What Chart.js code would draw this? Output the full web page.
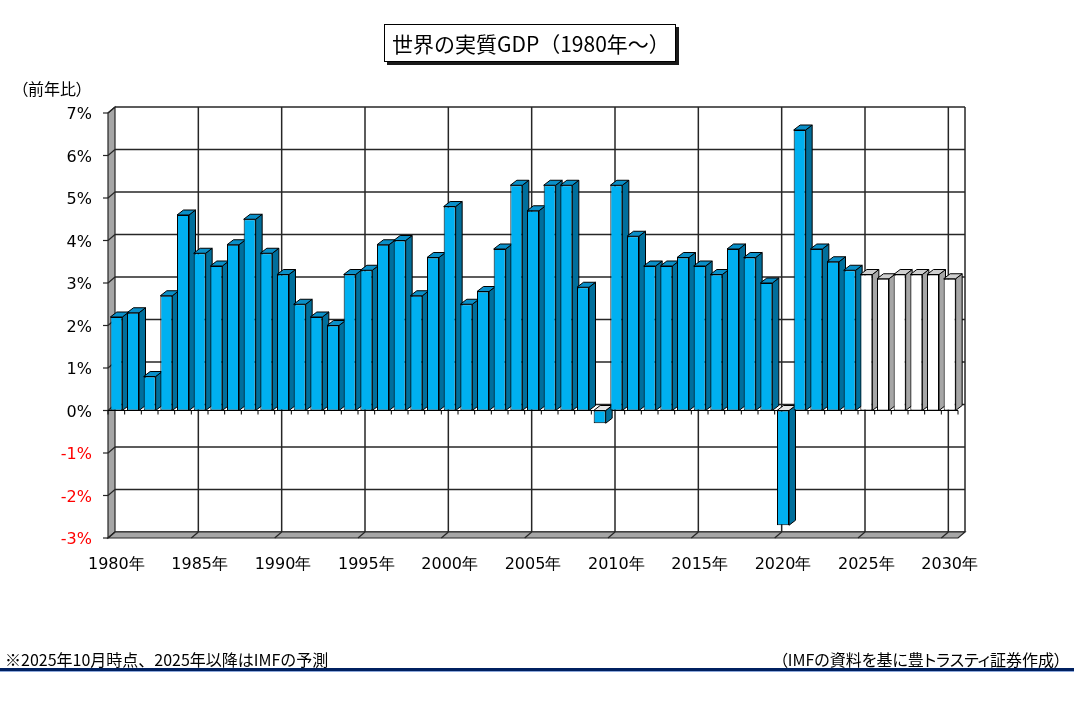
<!DOCTYPE html>
<html>
<head>
<meta charset="utf-8">
<script src="https://cdn.jsdelivr.net/npm/chart.js@4.4.1/dist/chart.umd.min.js"></script>
<style>
  body { margin: 0; background: #fff; }
  #wrap { position: relative; width: 1074px; height: 707px; overflow: hidden;
          font-family: "Noto Sans CJK JP", sans-serif; color: #000; }
  #chart { position: absolute; left: 0; top: 0; }
  .title { position: absolute; left: 384px; top: 24px; width: 292px; height: 38px;
           box-sizing: border-box; border: 1px solid #000; background: #fff;
           box-shadow: 3px 3px 0 #1a1a1a; font-size: 21px; line-height: 37px;
           padding-left: 7px; white-space: nowrap; }
  .unit { position: absolute; left: 20px; top: 76px; font-size: 16px; line-height: 24px;
          font-feature-settings: "palt"; white-space: nowrap; }
  .note { position: absolute; left: 5px; top: 647px; font-size: 16px; line-height: 24px; white-space: nowrap; }
  .src { position: absolute; right: 12px; top: 647px; font-size: 16px; line-height: 24px;
         font-feature-settings: "palt"; white-space: nowrap; }
  .rule { position: absolute; left: 0; top: 668px; width: 1074px; height: 3px; background: #002060;
          border-bottom: 1px solid #8ea9db; }
</style>
</head>
<body>
<div id="wrap">
  <canvas id="chart" width="1074" height="707"></canvas>
  <div class="title">世界の実質GDP（1980年～）</div>
  <div class="unit">（前年比）</div>
  <div class="note">※2025年10月時点、2025年以降はIMFの予測</div>
  <div class="src">（IMFの資料を基に豊トラスティ証券作成）</div>
  <div class="rule"></div>
</div>
<script>
// data
var years = ['1980','1981','1982','1983','1984','1985','1986','1987','1988','1989',
             '1990','1991','1992','1993','1994','1995','1996','1997','1998','1999',
             '2000','2001','2002','2003','2004','2005','2006','2007','2008','2009',
             '2010','2011','2012','2013','2014','2015','2016','2017','2018','2019',
             '2020','2021','2022','2023','2024','2025','2026','2027','2028','2029','2030'];
var growth = [2.2, 2.3, 0.8, 2.7, 4.6, 3.7, 3.4, 3.9, 4.5, 3.7,
              3.2, 2.5, 2.2, 2.0, 3.2, 3.3, 3.9, 4.0, 2.7, 3.6,
              4.8, 2.5, 2.8, 3.8, 5.3, 4.7, 5.3, 5.3, 2.9, -0.3,
              5.3, 4.1, 3.4, 3.4, 3.6, 3.4, 3.2, 3.8, 3.6, 3.0,
              -2.7, 6.6, 3.8, 3.5, 3.3, 3.2, 3.1, 3.2, 3.2, 3.2, 3.1];
var firstForecastYear = 2025;
var xTickLabels = ['1980年','1985年','1990年','1995年','2000年','2005年',
                   '2010年','2015年','2020年','2025年','2030年'];
var yTicks = [-3, -2, -1, 0, 1, 2, 3, 4, 5, 6, 7];

// 3d look
var DX = 7, DY = -6;       // wall depth
var BDX = 6.5, BDY = -5;   // bar depth
var faceColors = {
  actual:   { front: '#00B0F0', top: '#0A8FC8', side: '#006F9C' },
  forecast: { front: '#FFFFFF', top: '#CFCFCF', side: '#A6A6A6' }
};

function isForecast(i) { return parseInt(years[i], 10) >= firstForecastYear; }

function line(ctx, x1, y1, x2, y2) {
  ctx.beginPath(); ctx.moveTo(x1, y1); ctx.lineTo(x2, y2); ctx.stroke();
}
function poly(ctx, pts, fill) {
  ctx.beginPath();
  ctx.moveTo(pts[0][0], pts[0][1]);
  for (var i = 1; i < pts.length; i++) ctx.lineTo(pts[i][0], pts[i][1]);
  ctx.closePath();
  ctx.fillStyle = fill; ctx.fill(); ctx.stroke();
}

var wall3d = {
  id: 'wall3d',
  beforeDatasetsDraw: function(chart) {
    var ctx = chart.ctx, a = chart.chartArea;
    var xs = chart.scales.x, ys = chart.scales.y;
    var step = xs.getPixelForValue(1) - xs.getPixelForValue(0);
    var edge = function(i) { return xs.getPixelForValue(i) - step / 2; };
    ctx.save();
    ctx.strokeStyle = '#262626';
    ctx.lineWidth = 1.5;
    // back wall horizontal grid
    yTicks.forEach(function(v) {
      var y = ys.getPixelForValue(v);
      line(ctx, a.left + DX, y + DY, a.right + DX, y + DY);
    });
    // back wall vertical grid every 5 years
    for (var i = 5; i <= years.length; i += 5) {
      var xb = edge(i) + DX;
      line(ctx, xb, a.top + DY, xb, a.bottom + DY);
    }
    line(ctx, a.right + DX, a.top + DY, a.right + DX, a.bottom + DY);
    // left wall and floor
    ctx.lineWidth = 1.2;
    poly(ctx, [[a.left, a.top], [a.left + DX, a.top + DY], [a.left + DX, a.bottom + DY], [a.left, a.bottom]], '#A6A6A6');
    poly(ctx, [[a.left, a.bottom], [a.left + DX, a.bottom + DY], [a.right + DX, a.bottom + DY], [a.right, a.bottom]], '#A6A6A6');
    yTicks.forEach(function(v) {
      var y = ys.getPixelForValue(v);
      line(ctx, a.left - 5, y, a.left, y);
      line(ctx, a.left, y, a.left + DX, y + DY);
    });
    for (var j = 5; j <= years.length; j += 5) {
      line(ctx, edge(j), a.bottom, edge(j) + DX, a.bottom + DY);
    }
    // category axis at zero
    var y0 = ys.getPixelForValue(0);
    ctx.lineWidth = 1;
    ctx.strokeStyle = '#000';
    line(ctx, a.left, y0, a.right, y0);
    for (var k = 0; k <= years.length; k++) line(ctx, edge(k), y0, edge(k), y0 + 4);
    // bar tops and sides
    var meta = chart.getDatasetMeta(0);
    meta.data.forEach(function(bar, n) {
      var p = bar.getProps(['x', 'y', 'base', 'width'], true);
      var l = p.x - p.width / 2, r = p.x + p.width / 2;
      var t = Math.min(p.y, p.base), b = Math.max(p.y, p.base);
      var c = isForecast(n) ? faceColors.forecast : faceColors.actual;
      var topFill = growth[n] < 0 ? '#E6E6E6' : c.top;
      poly(ctx, [[r, t], [r + BDX, t + BDY], [r + BDX, b + BDY], [r, b]], c.side);
      poly(ctx, [[l, t], [l + BDX, t + BDY], [r + BDX, t + BDY], [r, t]], topFill);
    });
    ctx.restore();
  }
};

new Chart(document.getElementById('chart'), {
  type: 'bar',
  data: {
    labels: years,
    datasets: [{
      data: growth,
      backgroundColor: function(c) {
        return isForecast(c.dataIndex) ? faceColors.forecast.front : faceColors.actual.front;
      },
      borderColor: '#000',
      borderWidth: 1,
      borderSkipped: false,
      categoryPercentage: 1.0,
      barPercentage: 0.72
    }]
  },
  options: {
    responsive: false,
    animation: false,
    devicePixelRatio: 1,
    layout: { padding: { top: 113, right: 116, left: 0, bottom: 0 } },
    plugins: { legend: { display: false }, tooltip: { enabled: false } },
    scales: {
      x: {
        grid: { display: false, drawTicks: false },
        border: { display: false },
        afterFit: function(s) { s.height = 169; },
        ticks: {
          autoSkip: false, maxRotation: 0, minRotation: 0, padding: 17,
          color: '#000',
          font: { family: 'DejaVu Sans', size: 16 },
          callback: function(v, i) {
            var lab = years[i] + '年';
            return xTickLabels.indexOf(lab) >= 0 ? lab : '';
          }
        }
      },
      y: {
        min: -3, max: 7,
        grid: { display: false, drawTicks: false },
        border: { display: false },
        afterFit: function(s) { s.width = 108; },
        afterBuildTicks: function(s) { s.ticks = yTicks.map(function(v) { return { value: v }; }); },
        ticks: {
          padding: 16,
          labelOffset: 2,
          font: { family: 'DejaVu Sans', size: 16 },
          color: function(c) { return c.tick.value < 0 ? '#FF0000' : '#000'; },
          callback: function(v) { return v + '%'; }
        }
      }
    }
  },
  plugins: [wall3d]
});
</script>
</body>
</html>
